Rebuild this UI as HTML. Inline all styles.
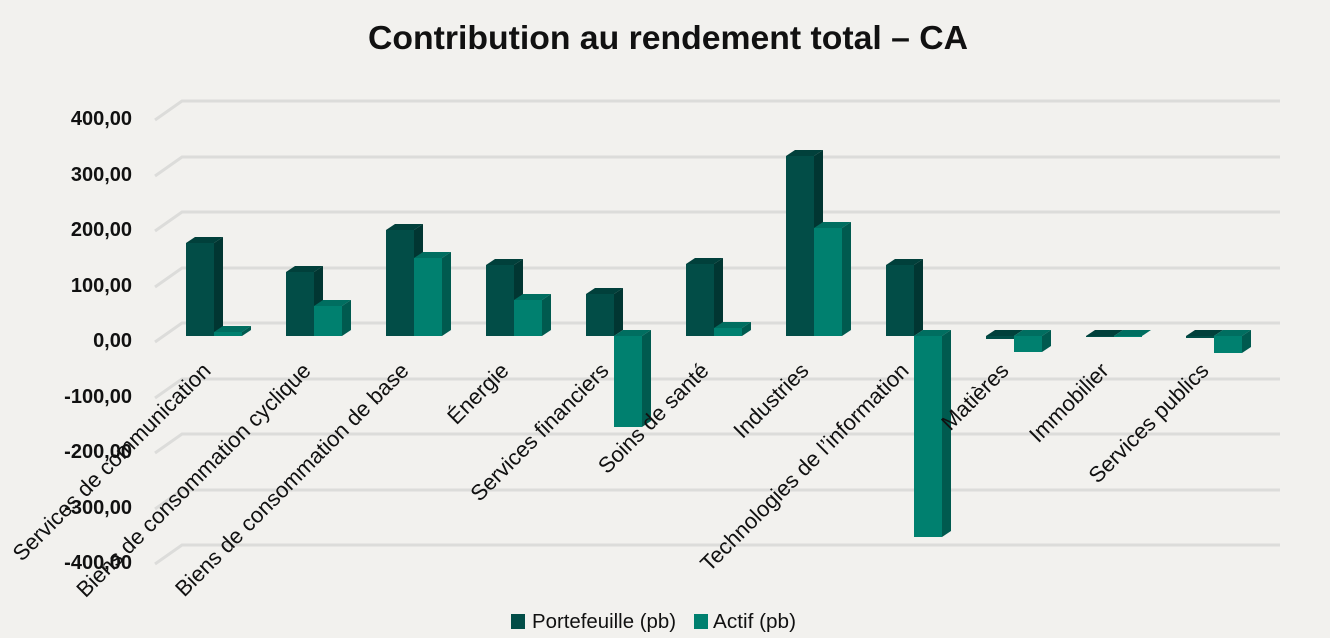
<!DOCTYPE html>
<html><head><meta charset="utf-8"><style>
html,body{margin:0;padding:0;background:#f2f1ee;}
svg{display:block;font-family:"Liberation Sans",sans-serif;}
</style></head><body>
<svg width="1330" height="638" viewBox="0 0 1330 638" xmlns="http://www.w3.org/2000/svg">
<rect width="1330" height="638" fill="#f2f1ee"/>
<text x="668" y="49" text-anchor="middle" font-size="33" font-weight="bold" fill="#111" textLength="600" lengthAdjust="spacingAndGlyphs">Contribution au rendement total – CA</text>
<g stroke="#dcdcda" stroke-width="3" fill="none">
<polyline points="155,120 182,101 1280,101"/>
<polyline points="155,176 182,157 1280,157"/>
<polyline points="155,231 182,212 1280,212"/>
<polyline points="155,287 182,268 1280,268"/>
<polyline points="155,342 182,323 1280,323"/>
<polyline points="155,398 182,379 1280,379"/>
<polyline points="155,453 182,434 1280,434"/>
<polyline points="155,509 182,490 1280,490"/>
<polyline points="155,564 182,545 1280,545"/>
</g>
<g font-size="20" font-weight="bold" fill="#111" text-anchor="end">
<text x="132" y="125">400,00</text>
<text x="132" y="181">300,00</text>
<text x="132" y="236">200,00</text>
<text x="132" y="292">100,00</text>
<text x="132" y="347">0,00</text>
<text x="132" y="403">-100,00</text>
<text x="132" y="458">-200,00</text>
<text x="132" y="514">-300,00</text>
<text x="132" y="569">-400,00</text>
</g>
<g>
<rect x="186" y="243" width="28" height="93" fill="#024d47"/><polygon points="186,243 195,237 223,237 214,243" fill="#01403b"/><polygon points="214,243 223,237 223,330 214,336" fill="#013632"/>
<rect x="214" y="332" width="28" height="4" fill="#00806f"/><polygon points="214,332 223,326 251,326 242,332" fill="#006e60"/><polygon points="242,332 251,326 251,330 242,336" fill="#005a4f"/>
<rect x="286" y="272" width="28" height="64" fill="#024d47"/><polygon points="286,272 295,266 323,266 314,272" fill="#01403b"/><polygon points="314,272 323,266 323,330 314,336" fill="#013632"/>
<rect x="314" y="306" width="28" height="30" fill="#00806f"/><polygon points="314,306 323,300 351,300 342,306" fill="#006e60"/><polygon points="342,306 351,300 351,330 342,336" fill="#005a4f"/>
<rect x="386" y="230" width="28" height="106" fill="#024d47"/><polygon points="386,230 395,224 423,224 414,230" fill="#01403b"/><polygon points="414,230 423,224 423,330 414,336" fill="#013632"/>
<rect x="414" y="258" width="28" height="78" fill="#00806f"/><polygon points="414,258 423,252 451,252 442,258" fill="#006e60"/><polygon points="442,258 451,252 451,330 442,336" fill="#005a4f"/>
<rect x="486" y="265" width="28" height="71" fill="#024d47"/><polygon points="486,265 495,259 523,259 514,265" fill="#01403b"/><polygon points="514,265 523,259 523,330 514,336" fill="#013632"/>
<rect x="514" y="300" width="28" height="36" fill="#00806f"/><polygon points="514,300 523,294 551,294 542,300" fill="#006e60"/><polygon points="542,300 551,294 551,330 542,336" fill="#005a4f"/>
<rect x="586" y="294" width="28" height="42" fill="#024d47"/><polygon points="586,294 595,288 623,288 614,294" fill="#01403b"/><polygon points="614,294 623,288 623,330 614,336" fill="#013632"/>
<rect x="614" y="336" width="28" height="91" fill="#00806f"/><polygon points="614,336 623,330 651,330 642,336" fill="#006e60"/><polygon points="642,336 651,330 651,421 642,427" fill="#005a4f"/>
<rect x="686" y="264" width="28" height="72" fill="#024d47"/><polygon points="686,264 695,258 723,258 714,264" fill="#01403b"/><polygon points="714,264 723,258 723,330 714,336" fill="#013632"/>
<rect x="714" y="328" width="28" height="8" fill="#00806f"/><polygon points="714,328 723,322 751,322 742,328" fill="#006e60"/><polygon points="742,328 751,322 751,330 742,336" fill="#005a4f"/>
<rect x="786" y="156" width="28" height="180" fill="#024d47"/><polygon points="786,156 795,150 823,150 814,156" fill="#01403b"/><polygon points="814,156 823,150 823,330 814,336" fill="#013632"/>
<rect x="814" y="228" width="28" height="108" fill="#00806f"/><polygon points="814,228 823,222 851,222 842,228" fill="#006e60"/><polygon points="842,228 851,222 851,330 842,336" fill="#005a4f"/>
<rect x="886" y="265" width="28" height="71" fill="#024d47"/><polygon points="886,265 895,259 923,259 914,265" fill="#01403b"/><polygon points="914,265 923,259 923,330 914,336" fill="#013632"/>
<rect x="914" y="336" width="28" height="201" fill="#00806f"/><polygon points="914,336 923,330 951,330 942,336" fill="#006e60"/><polygon points="942,336 951,330 951,531 942,537" fill="#005a4f"/>
<rect x="986" y="336" width="28" height="3" fill="#024d47"/><polygon points="986,336 995,330 1023,330 1014,336" fill="#01403b"/>
<rect x="1014" y="336" width="28" height="16" fill="#00806f"/><polygon points="1014,336 1023,330 1051,330 1042,336" fill="#006e60"/><polygon points="1042,336 1051,330 1051,346 1042,352" fill="#005a4f"/>
<rect x="1086" y="336" width="28" height="1" fill="#024d47"/><polygon points="1086,336 1095,330 1123,330 1114,336" fill="#01403b"/>
<rect x="1114" y="336" width="28" height="1" fill="#00806f"/><polygon points="1114,336 1123,330 1151,330 1142,336" fill="#006e60"/>
<rect x="1186" y="336" width="28" height="2" fill="#024d47"/><polygon points="1186,336 1195,330 1223,330 1214,336" fill="#01403b"/>
<rect x="1214" y="336" width="28" height="17" fill="#00806f"/><polygon points="1214,336 1223,330 1251,330 1242,336" fill="#006e60"/><polygon points="1242,336 1251,330 1251,347 1242,353" fill="#005a4f"/>
</g>
<g font-size="22" fill="#111" text-anchor="end">
<text transform="translate(212,372) rotate(-45)">Services de communication</text>
<text transform="translate(312,372) rotate(-45)">Biens de consommation cyclique</text>
<text transform="translate(410,372) rotate(-45)">Biens de consommation de base</text>
<text transform="translate(510,372) rotate(-45)">Énergie</text>
<text transform="translate(610,372) rotate(-45)">Services financiers</text>
<text transform="translate(710,372) rotate(-45)">Soins de santé</text>
<text transform="translate(810,372) rotate(-45)">Industries</text>
<text transform="translate(910,372) rotate(-45)">Technologies de l’information</text>
<text transform="translate(1010,372) rotate(-45)">Matières</text>
<text transform="translate(1110,372) rotate(-45)">Immobilier</text>
<text transform="translate(1210,372) rotate(-45)">Services publics</text>
</g>
<rect x="511" y="614" width="14" height="15" fill="#024d47"/>
<text x="532" y="628" font-size="20" fill="#111" textLength="144" lengthAdjust="spacingAndGlyphs">Portefeuille (pb)</text>
<rect x="694" y="614" width="14" height="15" fill="#00806f"/>
<text x="713" y="628" font-size="20" fill="#111" textLength="83" lengthAdjust="spacingAndGlyphs">Actif (pb)</text>
</svg>
</body></html>
